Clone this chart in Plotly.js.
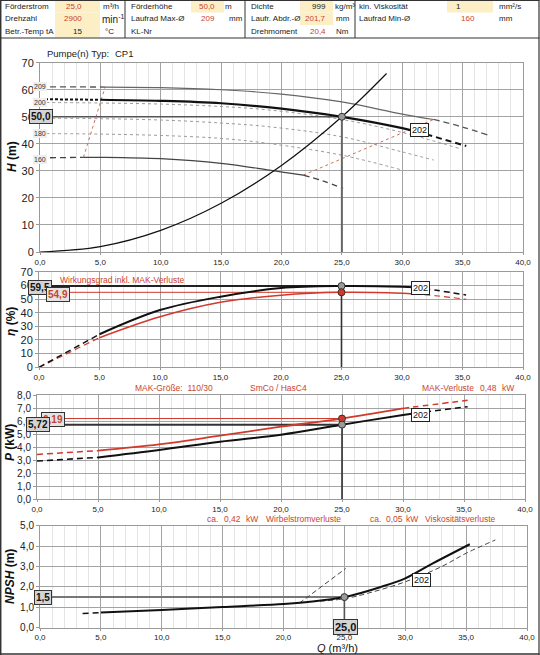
<!DOCTYPE html>
<html><head><meta charset="utf-8">
<script src="https://cdn.plot.ly/plotly-3.0.1.min.js"></script>
<style>html,body{margin:0;padding:0;background:#fff}#chart{width:540px;height:655px}</style>
</head><body><div id="chart"></div>
<script>
// ---------- data ----------
const hQ202=[0,5,10,15,20,25,30,32,35.3];
const hH202=[56.5,56.3,55.9,55.0,53.0,50.0,45.8,43.5,39.2];
const hQ209=[0,5.4,10,15,20,25,30,32.6,35,37.1];
const hH209=[61.1,61.0,60.8,60.0,58.4,55.5,51.0,49.0,46.2,43.2];
const hQ160=[0,3.6,5,10,15,19,21.8,23.5,25.1];
const hH160=[34.8,35.0,35.0,34.5,32.8,30.3,28.4,26.2,23.5];
const dQ200=[0,5,10,15,19,25,30,34.7];
const dH200=[55.3,55.1,54.7,53.8,52.5,49.0,44.2,38.3];
const dQ190=[0,5,10,15,19,25,30,32.6];
const dH190=[49.5,49.3,48.8,47.7,46.3,42.6,37.0,34.0];
const dQ180=[0,5,10,15,19,25,30];
const dH180=[43.8,43.6,43.1,42.0,40.1,35.8,30.3];
const sysQ=[0,5,10,15,20,25,28.7];
const sysH=[0,2,8,18,32,50,66];
const minQ=[3.6,5.4], minH=[35.0,61.1];
const maxQ=[21.8,32.6], maxH=[28.4,49.0];
const etaQ=[0,5,10,15,20,25,30,31,33,35.3];
const eta=[0,24.2,41.9,51.7,58.0,59.5,59.0,58.6,56.2,52.9];
const etaMak=[0,21.7,37.0,47.6,52.8,54.9,54.2,53.7,52.2,49.8];
const pQ=[0,5,10,15,20,25,30,31,35.3];
const pw=[2.92,3.2,3.77,4.41,4.95,5.72,6.46,6.6,7.1];
const pwMak=[3.43,3.72,4.2,4.87,5.56,6.19,6.97,7.09,7.6];
const nQ=[3.5,5,10,15,20,22,25,28,30,32,35.3];
const npsh=[0.7,0.74,0.87,1.01,1.16,1.26,1.5,2.0,2.42,3.07,4.09];
const nQa=[21.3,25.1], npshA=[1.2,2.9];
const nQb=[23,25,27,30,33,35,37.4], npshB=[1.3,1.42,1.7,2.25,3.0,3.65,4.3];
const opQ=25, opH=50, opEta=59.5, opEtaMak=54.9, opP=5.72, opPMak=6.19, opNPSH=1.5;
const xTicks=[0,5,10,15,20,25,30,35,40];

// ---------- helpers ----------
const F='"Liberation Sans", Arial, sans-serif';
const RED='#cf3a2c', TRED='#c8452f';
function axn(a,p){return a===1?p:p+a;}
function seg(q,v,lo,hi){const x=[],y=[];q.forEach((qq,i)=>{if(qq>=lo-1e-9&&qq<=hi+1e-9){x.push(qq);y.push(v[i]);}});return {x,y};}
function tr(q,v,lo,hi,a,color,width,dash,shape){const s=seg(q,v,lo,hi);
  return {x:s.x,y:s.y,xaxis:axn(a,'x'),yaxis:axn(a,'y'),mode:'lines',
    line:{color:color,width:width,dash:dash||'solid',shape:shape||'spline'},hoverinfo:'skip',showlegend:false};}
function ln(x,y,a,color,width,dash){return {x:x,y:y,xaxis:axn(a,'x'),yaxis:axn(a,'y'),mode:'lines',
    line:{color:color,width:width,dash:dash||'solid'},hoverinfo:'skip',showlegend:false};}
function mk(x,y,a,fill){return {x:[x],y:[y],xaxis:axn(a,'x'),yaxis:axn(a,'y'),mode:'markers',
    marker:{size:7,color:fill,line:{color:'#333',width:1}},hoverinfo:'skip',showlegend:false};}

const LD='6px,4px', SD='3px,2px';
const data=[];
// ---- H plot ----
data.push(tr(dQ200,dH200,0,99,1,'#9a9a9a',1,'dot'));
data.push(tr(dQ190,dH190,0,99,1,'#9a9a9a',1,'dot'));
data.push(tr(dQ180,dH180,0,99,1,'#9a9a9a',1,'dot'));
data.push(tr(minQ,minH,0,99,1,'#d0705a',1,'dot','linear'));
data.push(tr(maxQ,maxH,0,99,1,'#d0705a',1,'dot','linear'));
data.push(tr(hQ209,hH209,0,5.4,1,'#555',1.3,LD));
data.push(tr(hQ209,hH209,5.4,32.6,1,'#666',1.2));
data.push(tr(hQ209,hH209,32.6,99,1,'#555',1.3,LD));
data.push(tr(hQ160,hH160,0,3.6,1,'#444',1.3,LD));
data.push(tr(hQ160,hH160,3.6,21.8,1,'#444',1.2));
data.push(tr(hQ160,hH160,21.8,99,1,'#444',1.3,LD));
data.push(ln([0,opQ],[opH,opH],1,'#555',1.6));
data.push(ln([opQ,opQ],[0,opH],1,'#666',2));
data.push(tr(sysQ,sysH,0,99,1,'#111',1.2));
data.push(tr(hQ202,hH202,0,5,1,'#111',2,SD));
data.push(tr(hQ202,hH202,5,32,1,'#111',2.2));
data.push(tr(hQ202,hH202,32,99,1,'#111',2,LD));
data.push(mk(opQ,opH,1,'#9a9a9a'));
// ---- eta plot ----
data.push(ln([0,opQ],[opEta,opEta],2,'#222',2));
data.push(ln([0,opQ],[opEtaMak,opEtaMak],2,RED,1));
data.push(ln([opQ,opQ],[0,opEta],2,'#333',1.6));
data.push(tr(etaQ,etaMak,0,5,2,RED,1.2,LD));
data.push(tr(etaQ,etaMak,5,31,2,RED,1.6));
data.push(tr(etaQ,etaMak,31,99,2,RED,1.2,LD));
data.push(tr(etaQ,eta,0,5,2,'#111',1.5,LD));
data.push(tr(etaQ,eta,5,31,2,'#111',2));
data.push(tr(etaQ,eta,31,99,2,'#111',1.5,LD));
data.push(mk(opQ,opEta,2,'#9a9a9a'));
data.push(mk(opQ,opEtaMak,2,RED));
// ---- P plot ----
data.push(ln([0,opQ],[opPMak,opPMak],3,RED,1));
data.push(ln([0,opQ],[opP,opP],3,'#333',2));
data.push(ln([opQ,opQ],[0,opPMak],3,'#333',1.6));
data.push(tr(pQ,pwMak,0,5,3,RED,1.5,LD));
data.push(tr(pQ,pwMak,5,30.5,3,RED,1.8));
data.push(tr(pQ,pwMak,30,99,3,RED,1.5,LD));
data.push(tr(pQ,pw,0,5,3,'#111',1.6,LD));
data.push(tr(pQ,pw,5,31,3,'#111',2));
data.push(tr(pQ,pw,31,99,3,'#111',1.6,LD));
data.push(mk(opQ,opPMak,3,RED));
data.push(mk(opQ,opP,3,'#9a9a9a'));
// ---- NPSH plot ----
data.push(ln([0,opQ],[opNPSH,opNPSH],4,'#777',2));
data.push(ln([opQ,opQ],[0,opNPSH],4,'#555',1.6));
data.push(tr(nQa,npshA,0,99,4,'#444',1,'5px,3px','linear'));
data.push(tr(nQb,npshB,0,99,4,'#444',1,'5px,3px'));
data.push(tr(nQ,npsh,0,5,4,'#111',1.5,LD));
data.push(tr(nQ,npsh,5,99,4,'#111',2));
data.push(mk(opQ,opNPSH,4,'#9a9a9a'));

// ---------- axes ----------
function xa(d0,d1,anchor){return {domain:[d0/540,d1/540],anchor:anchor,range:[0,40],tickvals:xTicks,tickformat:'.1f',
  showgrid:true,gridcolor:'#a3a3a3',gridwidth:1,minor:{dtick:1,showgrid:true,gridcolor:'#e4e4e4',gridwidth:1},
  showline:true,linecolor:'#9a9a9a',linewidth:1,mirror:true,zeroline:false,ticks:'outside',ticklen:2,tickcolor:'#9a9a9a',
  tickfont:{family:F,size:8,color:'#222'},fixedrange:true};}
function ya(top,bot,anchor,max,dt,fmt,fs){return {domain:[(655-bot)/655,(655-top)/655],anchor:anchor,range:[0,max],dtick:dt,
  tickformat:fmt,showgrid:true,gridcolor:'#a3a3a3',gridwidth:1,showline:true,linecolor:'#9a9a9a',mirror:true,zeroline:false,
  ticks:'outside',ticklen:3,tickcolor:'#9a9a9a',tickfont:{family:F,size:fs,color:'#222'},fixedrange:true};}

// ---------- annotations ----------
const ann=[];
function T(text,x,y,size,color,xanchor,extra){ann.push(Object.assign({text:text,x:x/540,y:1-y/655,xref:'paper',yref:'paper',
  showarrow:false,xanchor:xanchor||'left',yanchor:'middle',font:{family:F,size:size||8,color:color||'#222'}},extra||{}));}
function B(text,x,y,size,color,bg,border,xref,yref){ann.push({text:text,x:x,y:y,xref:xref||'paper',yref:yref||'paper',
  showarrow:false,xanchor:'center',yanchor:'middle',font:{family:F,size:size,color:color},bgcolor:bg,
  bordercolor:border||'rgba(0,0,0,0)',borderwidth:border?1:0,borderpad:1});}
const px=x=>x/540, py=y=>1-y/655;
// header
const r1=6.5,r2=19,r3=31.5;
T('Förderstrom',3,r1);T('25,0',84,r1,8,TRED,'right');T('m³/h',101,r1);
T('Drehzahl',3,r2);T('2900',84,r2,8,TRED,'right');T('min<sup>-1</sup>',100,r2,10);
T('Betr.-Temp tA',3,r3);T('15',84,r3,8,'#222','right');T('°C',103,r3);
T('Förderhöhe',129,r1);T('50,0',217,r1,8,TRED,'right');T('m',223,r1);
T('Laufrad Max-Ø',129,r2);T('209',217,r2,8,TRED,'right');T('mm',227,r2);
T('KL-Nr',129,r3);
T('Dichte',249,r1);T('999',328,r1,8,'#222','right');T('kg/m³',333,r1);
T('Laufr. Abdr.-Ø',249,r2);T('201,7',328,r2,8,TRED,'right');T('mm',334,r2);
T('Drehmoment',249,r3);T('20,4',328,r3,8,TRED,'right');T('Nm',334,r3);
T('kin. Viskosität',357,r1);T('1',458,r1,8,'#222','center');T('mm²/s',497,r1);
T('Laufrad Min-Ø',357,r2);T('160',468,r2,8,TRED,'center');T('mm',497,r2);
// chart texts
T('Pumpe(n) Typ:',45,53,9.5);T('CP1',113,53,9.5);
T('<b><i>H</i> (m)</b>',12,157,12,'#111','center',{textangle:-90});
T('<b><i>η</i> (%)</b>',11,322,12,'#111','center',{textangle:-90});
T('<b><i>P</i> (kW)</b>',10,443,12,'#111','center',{textangle:-90});
T('<b><i>NPSH</i> (m)</b>',10,577,12,'#111','center',{textangle:-90});
T('<i>Q</i> (m³/h)',337,648,11,'#111','center');
T('Wirkungsgrad inkl. MAK-Verluste',58,280,8.5,TRED);
T('MAK-Größe:  110/30',133,388,8.5,TRED);T('SmCo / HasC4',248,388,8.5,TRED);
T('MAK-Verluste',420,388,8.5,TRED);T('0,48',478,388,8.5,TRED);T('kW',500,388,8.5,TRED);
T('ca.',205,519,8.5,TRED);T('0,42',222,519,8.5,TRED);T('kW',244,519,8.5,TRED);T('Wirbelstromverluste',264,519,8.5,TRED);
T('ca.',368,519,8.5,TRED);T('0,05',384,519,8.5,TRED);T('kW',404,519,8.5,TRED);T('Viskositätsverluste',423,519,8.5,TRED);
// value boxes
B('<b>50,0</b>',px(41),py(117),10,'#111','#d4d4d4','#333');
B('209',px(40),py(86.7),7,'#333','#eeeeee');
B('200',px(40),py(102.3),7,'#333','#eeeeee');
B('180',px(40),py(133.3),7,'#333','#eeeeee');
B('160',px(40),py(159),7,'#333','#eeeeee');
B('<b>59,5</b>',px(40),py(288),10,'#111','#d4d4d4','#333');
B('<b>54,9</b>',px(58),py(294),10,TRED,'#e4e4e4','#333');
B('<b>6,19</b>',px(53),py(419),10,TRED,'#e4e4e4','#333');
B('<b>5,72</b>',px(38),py(424.5),10,'#111','#d4d4d4','#333');
B('<b>1,5</b>',px(42.5),py(597.5),10,'#111','#d4d4d4','#333');
B('<b>25,0</b>',px(345),py(627),11,'#111','#d4d4d4','#333');
B('202',31.4,45.1,9,'#111','#ffffff','#222','x','y');
B('202',31.5,57.9,9,'#111','#ffffff','#222','x2','y2');
B('202',31.4,6.46,9,'#111','#ffffff','#222','x3','y3');
B('202',31.3,2.36,9,'#111','#ffffff','#222','x4','y4');

// ---------- shapes (frames, header cells) ----------
const shapes=[];
function R(x0,y0,x1,y1,fill,line,w){shapes.push({type:'rect',xref:'paper',yref:'paper',x0:px(x0),x1:px(x1),y0:py(y0),y1:py(y1),
  fillcolor:fill||'rgba(0,0,0,0)',line:{color:line||'rgba(0,0,0,0)',width:w||0},layer:'below'});}
function L(x0,y0,x1,y1,c,w){shapes.push({type:'line',xref:'paper',yref:'paper',x0:px(x0),x1:px(x1),y0:py(y0),y1:py(y1),line:{color:c,width:w}});}
const YEL='#fcefc6';
R(55,0.5,100,12.5,YEL);R(55,12.5,100,25,YEL);R(55,25,100,37.5,YEL);
R(191,0.5,224,12.5,YEL);R(300,0.5,333,12.5,YEL);R(300,12.5,333,25,YEL);R(447,0.5,493,12.5,YEL);
L(0.5,0.5,539.5,0.5,'#333',1);L(0.5,38,539.5,38,'#333',1.2);
L(125,0.5,125,38,'#333',1);L(245,0.5,245,38,'#333',1);L(355,0.5,355,38,'#333',1);
L(0.7,0,0.7,655,'#333',1.5);L(539,0,539,655,'#333',1.2);L(0.5,654,539.5,654,'#333',1.5);

const layout={width:540,height:655,margin:{l:0,r:0,t:0,b:0},paper_bgcolor:'#fff',plot_bgcolor:'#fff',
  separators:', ',showlegend:false,font:{family:F,size:9,color:'#222'},
  xaxis:xa(40,523,'y'),yaxis:ya(62.7,252,'x',70,10,'',11),
  xaxis2:xa(39,523,'y2'),yaxis2:ya(271.7,367.3,'x2',70,10,'',11),
  xaxis3:xa(37,525,'y3'),yaxis3:ya(395,499,'x3',8,1,'.1f',10),
  xaxis4:xa(40,527,'y4'),yaxis4:ya(525.7,627.7,'x4',5,1,'.1f',10),
  annotations:ann,shapes:shapes};
Plotly.newPlot('chart',data,layout,{staticPlot:true,displayModeBar:false});
</script></body></html>
